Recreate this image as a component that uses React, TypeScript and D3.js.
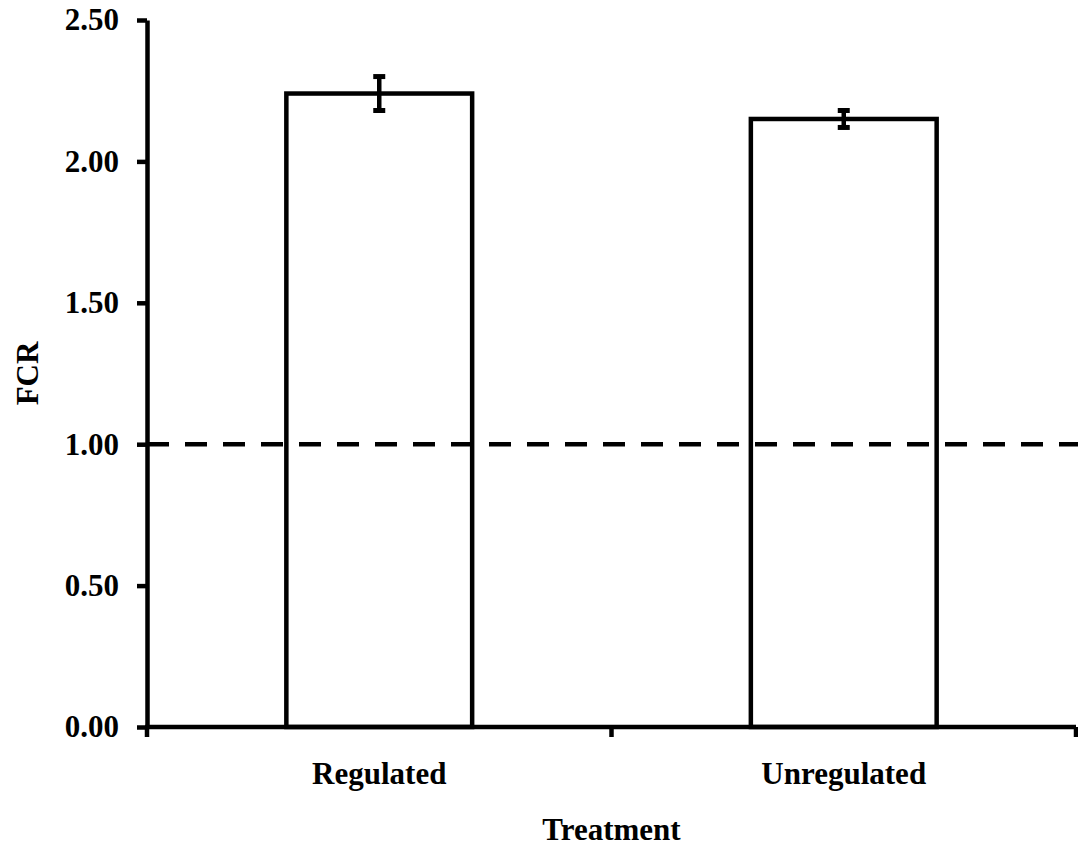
import React, { useEffect, useRef } from "react";
import * as d3 from "d3";

// chart data
const categories = ["Regulated", "Unregulated"];
const fcrValues = [2.24, 2.15];
const fcrErrors = [0.06, 0.03];
const yTicks = [0, 0.5, 1.0, 1.5, 2.0, 2.5];
const referenceLine = 1.0;

const W = 1078;
const H = 849;

const App: React.FC = () => {
  const svgRef = useRef<SVGSVGElement | null>(null);

  useEffect(() => {
    document.body.style.margin = "0";
    const svg = d3.select(svgRef.current);
    svg.selectAll("*").remove();

    const left = 147;
    const right = 1076;
    const top = 20;
    const bottom = 727;
    const font = "Liberation Serif";

    const x = d3
      .scaleBand()
      .domain(categories)
      .range([left, right])
      .paddingInner(0.6)
      .paddingOuter(0.3);

    const y = d3.scaleLinear().domain([0, 2.5]).range([bottom, top]);

    const data = categories.map((c, i) => ({
      label: c,
      value: fcrValues[i],
      err: fcrErrors[i],
    }));

    // bars
    svg
      .selectAll(".bar")
      .data(data)
      .enter()
      .append("rect")
      .attr("class", "bar")
      .attr("x", (d) => x(d.label) as number)
      .attr("y", (d) => y(d.value))
      .attr("width", x.bandwidth())
      .attr("height", (d) => bottom - y(d.value))
      .attr("fill", "#fff")
      .attr("stroke", "#000")
      .attr("stroke-width", 4.5);

    // dashed reference line
    svg
      .append("line")
      .attr("x1", left)
      .attr("x2", W)
      .attr("y1", y(referenceLine))
      .attr("y2", y(referenceLine))
      .attr("stroke", "#000")
      .attr("stroke-width", 4.5)
      .attr("stroke-dasharray", "22,16");

    // error bars
    const eb = svg
      .selectAll(".err")
      .data(data)
      .enter()
      .append("g")
      .attr("class", "err");
    eb.append("line")
      .attr("x1", (d) => (x(d.label) as number) + x.bandwidth() / 2)
      .attr("x2", (d) => (x(d.label) as number) + x.bandwidth() / 2)
      .attr("y1", (d) => y(d.value + d.err))
      .attr("y2", (d) => y(d.value - d.err))
      .attr("stroke", "#000")
      .attr("stroke-width", 4.5);
    [1, -1].forEach((s) => {
      eb.append("line")
        .attr("x1", (d) => (x(d.label) as number) + x.bandwidth() / 2 - 6)
        .attr("x2", (d) => (x(d.label) as number) + x.bandwidth() / 2 + 6)
        .attr("y1", (d) => y(d.value + s * d.err))
        .attr("y2", (d) => y(d.value + s * d.err))
        .attr("stroke", "#000")
        .attr("stroke-width", 5);
    });

    // y axis
    const yAxis = svg
      .append("g")
      .attr("transform", `translate(${left},0)`)
      .call(
        d3
          .axisLeft(y)
          .tickValues(yTicks)
          .tickFormat(d3.format(".2f"))
          .tickSize(10)
          .tickSizeOuter(0)
          .tickPadding(18)
      );
    yAxis.select(".domain").attr("stroke-width", 4.5);
    yAxis.selectAll(".tick line").attr("stroke-width", 4.5);
    yAxis
      .selectAll("text")
      .style("font-family", font)
      .style("font-weight", "bold")
      .style("font-size", "31px")
      .attr("fill", "#000");

    // x axis
    const xAxis = svg
      .append("g")
      .attr("transform", `translate(0,${bottom})`);
    xAxis
      .append("line")
      .attr("x1", left - 2)
      .attr("x2", right)
      .attr("stroke", "#000")
      .attr("stroke-width", 4.5);
    const boundaries = [left, (left + right) / 2, right];
    xAxis
      .selectAll(".xtick")
      .data(boundaries)
      .enter()
      .append("line")
      .attr("x1", (d) => d)
      .attr("x2", (d) => d)
      .attr("y1", 0)
      .attr("y2", 10)
      .attr("stroke", "#000")
      .attr("stroke-width", 4.5);
    xAxis
      .selectAll(".xlabel")
      .data(categories)
      .enter()
      .append("text")
      .attr("x", (d) => (x(d) as number) + x.bandwidth() / 2)
      .attr("y", 57)
      .attr("text-anchor", "middle")
      .style("font-family", font)
      .style("font-weight", "bold")
      .style("font-size", "31px")
      .text((d) => d);

    // axis titles
    svg
      .append("text")
      .attr("x", (left + right) / 2)
      .attr("y", 840)
      .attr("text-anchor", "middle")
      .style("font-family", font)
      .style("font-weight", "bold")
      .style("font-size", "31px")
      .text("Treatment");

    svg
      .append("text")
      .attr("transform", `translate(38,${(top + bottom) / 2}) rotate(-90)`)
      .attr("text-anchor", "middle")
      .style("font-family", font)
      .style("font-weight", "bold")
      .style("font-size", "31px")
      .text("FCR");
  }, []);

  return (
    <svg
      ref={svgRef}
      width={W}
      height={H}
      style={{ position: "absolute", left: 0, top: 0, background: "#fff" }}
    />
  );
};

export default App;
